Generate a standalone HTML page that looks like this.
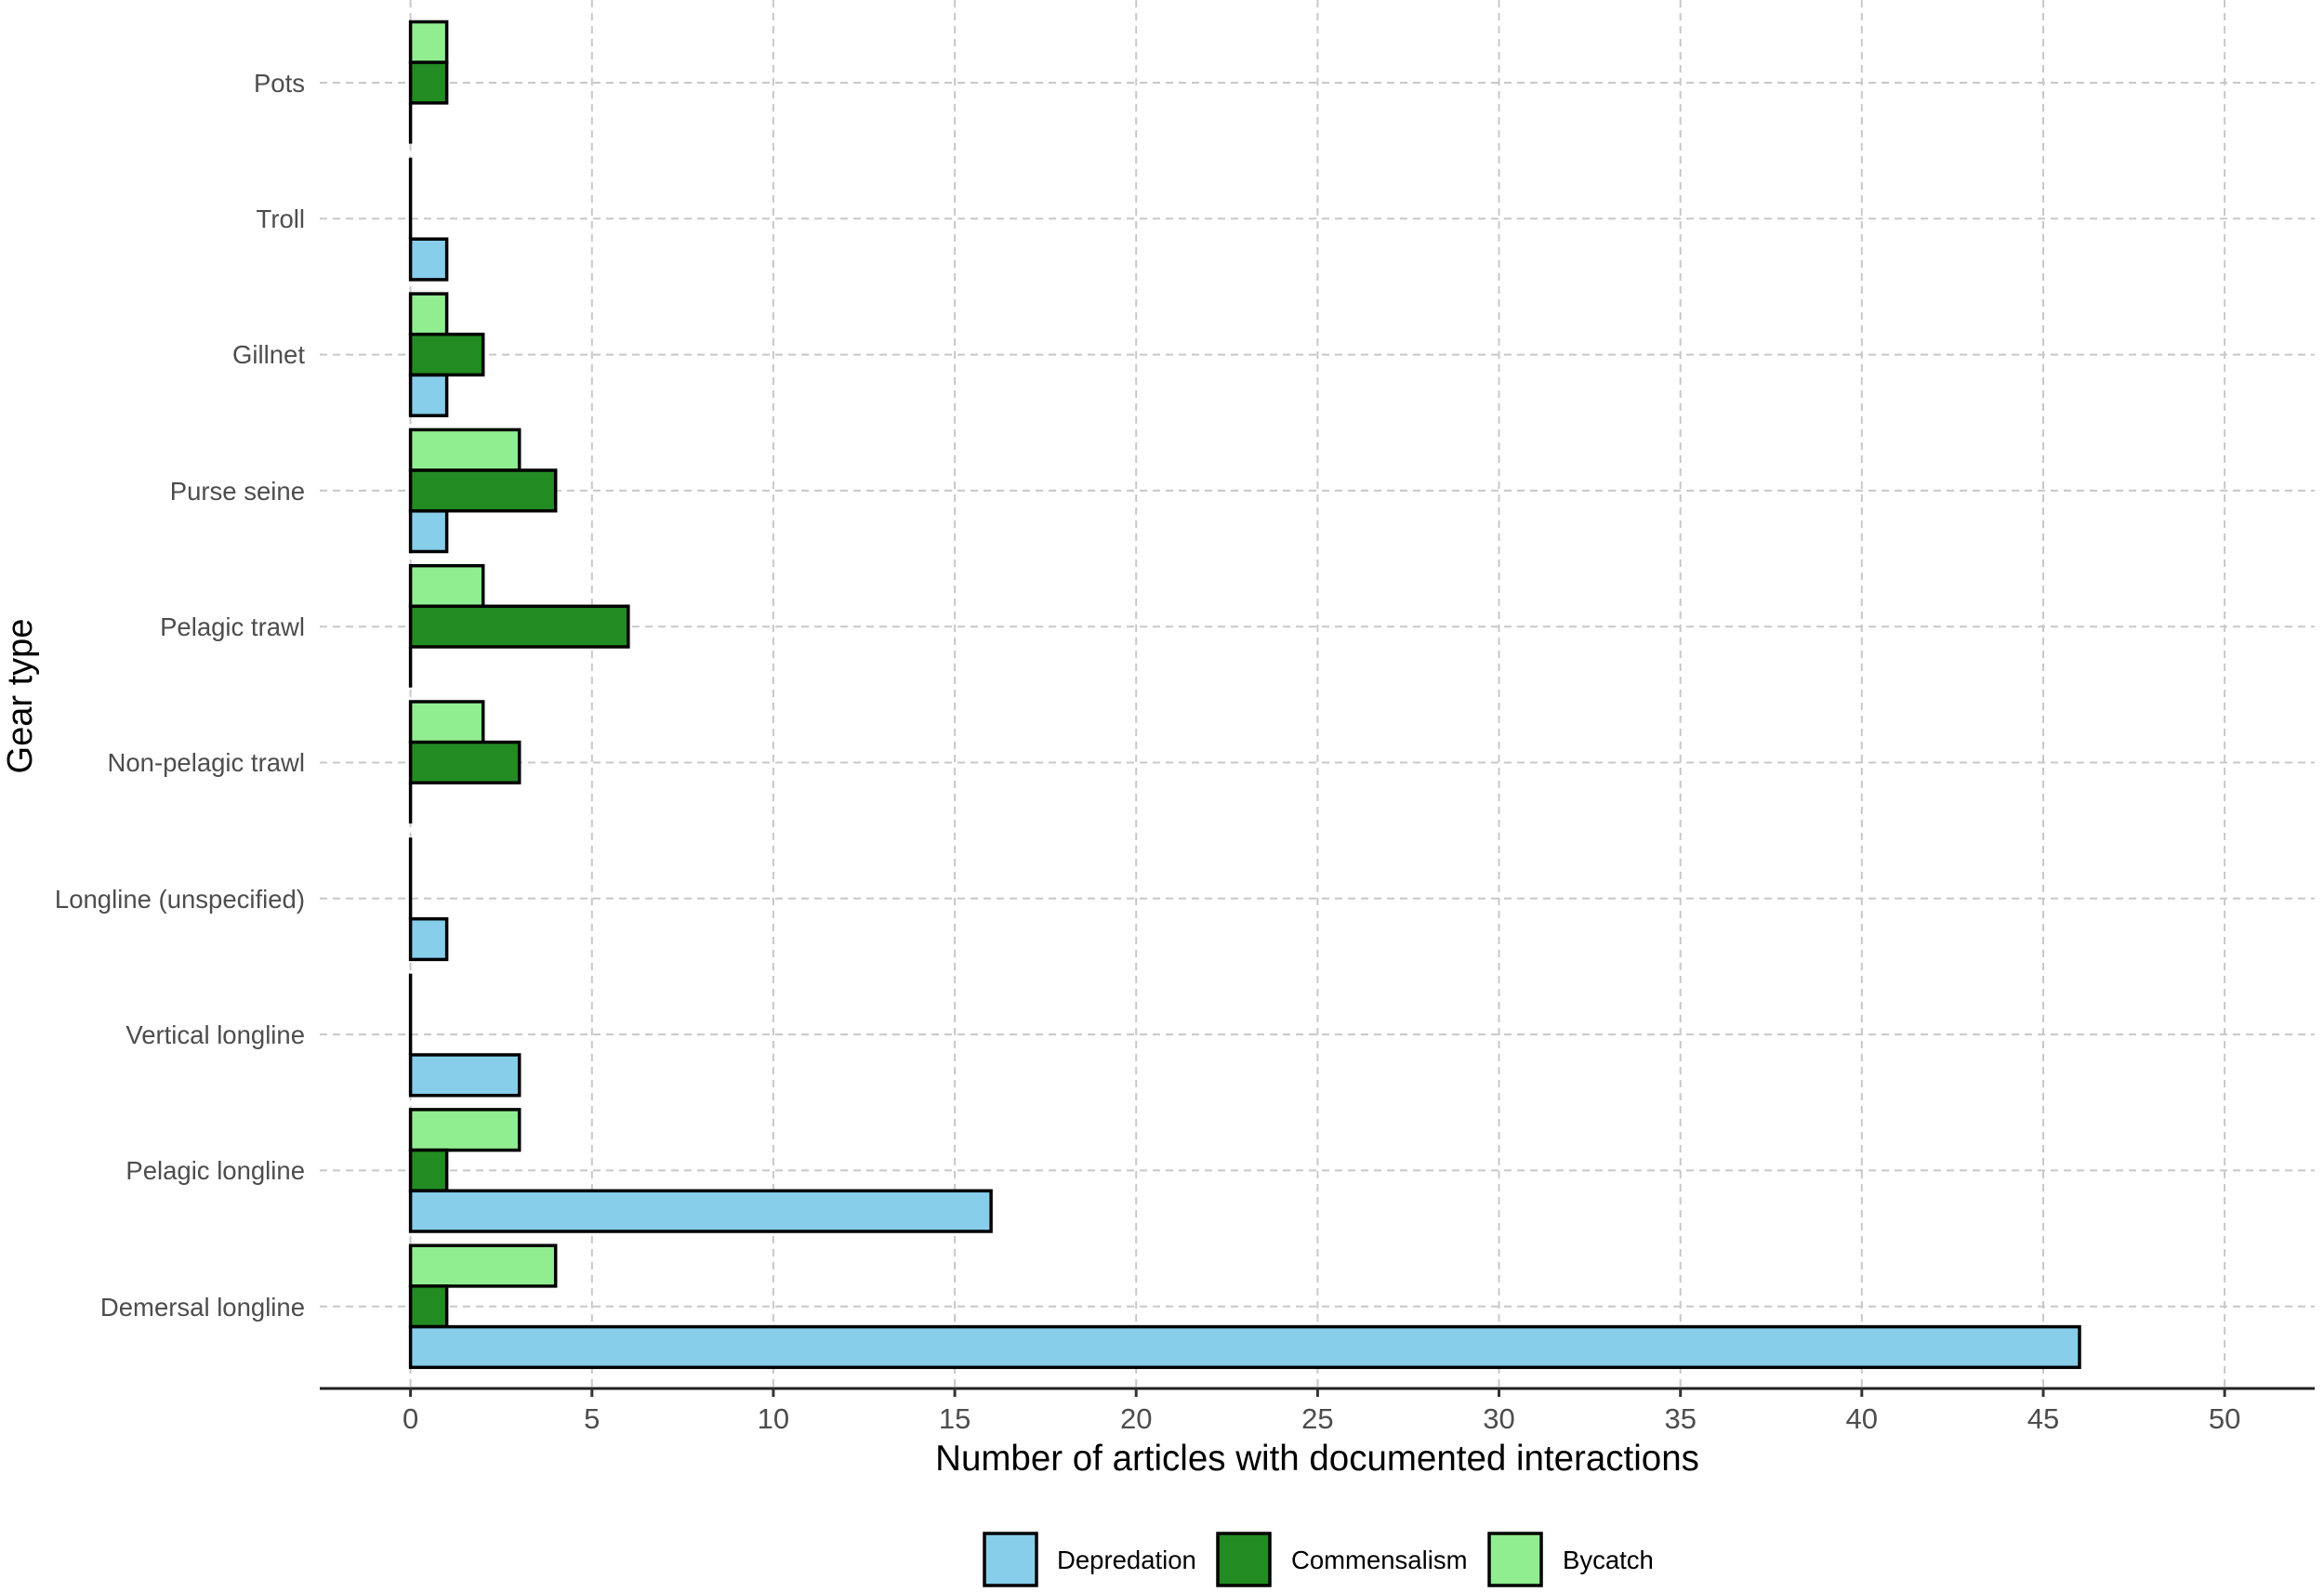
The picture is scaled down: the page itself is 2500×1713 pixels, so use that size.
<!DOCTYPE html>
<html><head><meta charset="utf-8"><style>
html,body{margin:0;padding:0;background:#fff}
svg{display:block}
text{font-family:"Liberation Sans",sans-serif}
</style></head><body>
<svg width="2500" height="1713" viewBox="0 0 2500 1713" xmlns="http://www.w3.org/2000/svg">
<rect width="2500" height="1713" fill="#fff"/>
<g stroke="#c8c8c8" stroke-width="2" stroke-dasharray="8,6">
<line x1="441.6" y1="0" x2="441.6" y2="1494"/>
<line x1="636.8" y1="0" x2="636.8" y2="1494"/>
<line x1="831.9" y1="0" x2="831.9" y2="1494"/>
<line x1="1027.1" y1="0" x2="1027.1" y2="1494"/>
<line x1="1222.2" y1="0" x2="1222.2" y2="1494"/>
<line x1="1417.4" y1="0" x2="1417.4" y2="1494"/>
<line x1="1612.5" y1="0" x2="1612.5" y2="1494"/>
<line x1="1807.7" y1="0" x2="1807.7" y2="1494"/>
<line x1="2002.8" y1="0" x2="2002.8" y2="1494"/>
<line x1="2198" y1="0" x2="2198" y2="1494"/>
<line x1="2393.1" y1="0" x2="2393.1" y2="1494"/>
<line x1="344" y1="89" x2="2490" y2="89"/>
<line x1="344" y1="235.3" x2="2490" y2="235.3"/>
<line x1="344" y1="381.6" x2="2490" y2="381.6"/>
<line x1="344" y1="527.9" x2="2490" y2="527.9"/>
<line x1="344" y1="674.2" x2="2490" y2="674.2"/>
<line x1="344" y1="820.5" x2="2490" y2="820.5"/>
<line x1="344" y1="966.8" x2="2490" y2="966.8"/>
<line x1="344" y1="1113.1" x2="2490" y2="1113.1"/>
<line x1="344" y1="1259.4" x2="2490" y2="1259.4"/>
<line x1="344" y1="1405.7" x2="2490" y2="1405.7"/>
</g>
<g stroke="#000" stroke-width="3.5">
<g transform="translate(0,89)"><rect x="441.6" y="-65.5" width="39" height="43.7" fill="#90ee90"/><rect x="441.6" y="-21.9" width="39" height="43.7" fill="#228b22"/><line x1="441.6" y1="21.9" x2="441.6" y2="65.6"/></g>
<g transform="translate(0,235.3)"><line x1="441.6" y1="-65.5" x2="441.6" y2="21.9"/><rect x="441.6" y="21.9" width="39" height="43.7" fill="#87ceeb"/></g>
<g transform="translate(0,381.6)"><rect x="441.6" y="-65.5" width="39" height="43.7" fill="#90ee90"/><rect x="441.6" y="-21.9" width="78.1" height="43.7" fill="#228b22"/><rect x="441.6" y="21.9" width="39" height="43.7" fill="#87ceeb"/></g>
<g transform="translate(0,527.9)"><rect x="441.6" y="-65.5" width="117.1" height="43.7" fill="#90ee90"/><rect x="441.6" y="-21.9" width="156.1" height="43.7" fill="#228b22"/><rect x="441.6" y="21.9" width="39" height="43.7" fill="#87ceeb"/></g>
<g transform="translate(0,674.2)"><rect x="441.6" y="-65.5" width="78.1" height="43.7" fill="#90ee90"/><rect x="441.6" y="-21.9" width="234.2" height="43.7" fill="#228b22"/><line x1="441.6" y1="21.9" x2="441.6" y2="65.6"/></g>
<g transform="translate(0,820.5)"><rect x="441.6" y="-65.5" width="78.1" height="43.7" fill="#90ee90"/><rect x="441.6" y="-21.9" width="117.1" height="43.7" fill="#228b22"/><line x1="441.6" y1="21.9" x2="441.6" y2="65.6"/></g>
<g transform="translate(0,966.8)"><line x1="441.6" y1="-65.5" x2="441.6" y2="21.9"/><rect x="441.6" y="21.9" width="39" height="43.7" fill="#87ceeb"/></g>
<g transform="translate(0,1113.1)"><line x1="441.6" y1="-65.5" x2="441.6" y2="21.9"/><rect x="441.6" y="21.9" width="117.1" height="43.7" fill="#87ceeb"/></g>
<g transform="translate(0,1259.4)"><rect x="441.6" y="-65.5" width="117.1" height="43.7" fill="#90ee90"/><rect x="441.6" y="-21.9" width="39" height="43.7" fill="#228b22"/><rect x="441.6" y="21.9" width="624.5" height="43.7" fill="#87ceeb"/></g>
<g transform="translate(0,1405.7)"><rect x="441.6" y="-65.5" width="156.1" height="43.7" fill="#90ee90"/><rect x="441.6" y="-21.9" width="39" height="43.7" fill="#228b22"/><rect x="441.6" y="21.9" width="1795.4" height="43.7" fill="#87ceeb"/></g>
</g>
<line x1="344" y1="1494" x2="2490" y2="1494" stroke="#222" stroke-width="3"/>
<g stroke="#333" stroke-width="3">
<line x1="441.6" y1="1494" x2="441.6" y2="1503"/><line x1="636.8" y1="1494" x2="636.8" y2="1503"/><line x1="831.9" y1="1494" x2="831.9" y2="1503"/><line x1="1027.1" y1="1494" x2="1027.1" y2="1503"/><line x1="1222.2" y1="1494" x2="1222.2" y2="1503"/><line x1="1417.4" y1="1494" x2="1417.4" y2="1503"/><line x1="1612.5" y1="1494" x2="1612.5" y2="1503"/><line x1="1807.7" y1="1494" x2="1807.7" y2="1503"/><line x1="2002.8" y1="1494" x2="2002.8" y2="1503"/><line x1="2198" y1="1494" x2="2198" y2="1503"/><line x1="2393.1" y1="1494" x2="2393.1" y2="1503"/>
</g>
<g font-size="31" fill="#4d4d4d" text-anchor="middle">
<text x="441.6" y="1537">0</text><text x="636.8" y="1537">5</text><text x="831.9" y="1537">10</text><text x="1027.1" y="1537">15</text><text x="1222.2" y="1537">20</text><text x="1417.4" y="1537">25</text><text x="1612.5" y="1537">30</text><text x="1807.7" y="1537">35</text><text x="2002.8" y="1537">40</text><text x="2198" y="1537">45</text><text x="2393.1" y="1537">50</text>
</g>
<g font-size="27.5" fill="#4d4d4d" text-anchor="end">
<text x="328" y="99">Pots</text>
<text x="328" y="245">Troll</text>
<text x="328" y="391">Gillnet</text>
<text x="328" y="538">Purse seine</text>
<text x="328" y="684">Pelagic trawl</text>
<text x="328" y="830">Non-pelagic trawl</text>
<text x="328" y="977">Longline (unspecified)</text>
<text x="328" y="1123">Vertical longline</text>
<text x="328" y="1269">Pelagic longline</text>
<text x="328" y="1416">Demersal longline</text>
</g>
<text x="1417" y="1582" font-size="38.5" text-anchor="middle" fill="#000">Number of articles with documented interactions</text>
<text transform="translate(34,749) rotate(-90)" font-size="38" text-anchor="middle" fill="#000">Gear type</text>
<g stroke="#000" stroke-width="3.5">
<rect x="1059" y="1650" width="56" height="56" fill="#87ceeb"/>
<rect x="1310" y="1650" width="56" height="56" fill="#228b22"/>
<rect x="1602" y="1650" width="56" height="56" fill="#90ee90"/>
</g>
<g font-size="27.5" fill="#000">
<text x="1137" y="1688">Depredation</text>
<text x="1389" y="1688">Commensalism</text>
<text x="1681" y="1688">Bycatch</text>
</g>
</svg>
</body></html>
